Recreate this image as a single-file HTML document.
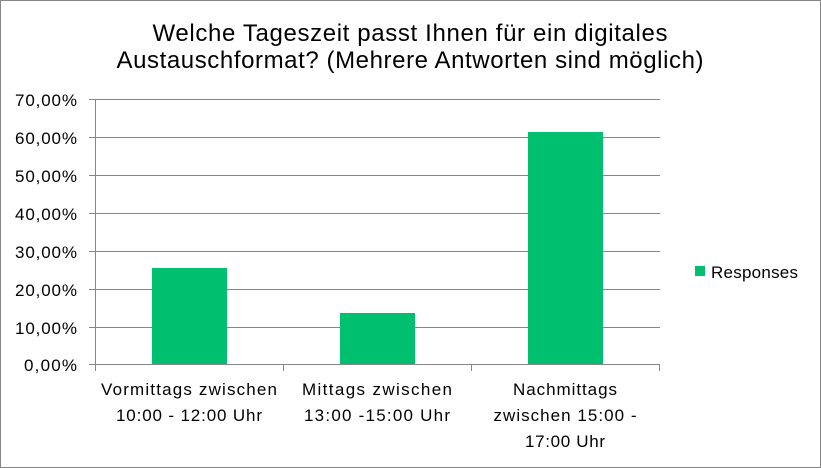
<!DOCTYPE html><html><head><meta charset="utf-8"><style>body{margin:0}svg{display:block}text{font-family:"Liberation Sans",sans-serif;fill:#000}</style></head><body>
<svg width="821" height="468" xmlns="http://www.w3.org/2000/svg">
<rect x="0.5" y="0.5" width="820" height="467" fill="#fff" stroke="#868686"/>
<g stroke="#868686" stroke-width="1">
<line x1="89" y1="99.5" x2="660" y2="99.5"/><line x1="89" y1="137.5" x2="660" y2="137.5"/>
<line x1="89" y1="175.5" x2="660" y2="175.5"/><line x1="89" y1="213.5" x2="660" y2="213.5"/>
<line x1="89" y1="251.5" x2="660" y2="251.5"/><line x1="89" y1="289.5" x2="660" y2="289.5"/>
<line x1="89" y1="327.5" x2="660" y2="327.5"/><line x1="89" y1="364.5" x2="660" y2="364.5"/>
<line x1="95.5" y1="99" x2="95.5" y2="371"/>
<line x1="283.5" y1="364" x2="283.5" y2="371"/><line x1="471.5" y1="364" x2="471.5" y2="371"/><line x1="659.5" y1="364" x2="659.5" y2="371"/>
</g>
<g fill="#00bf6f">
<rect x="152" y="268" width="75" height="96"/>
<rect x="340" y="313" width="75" height="51"/>
<rect x="528" y="132" width="75" height="232"/>
<rect x="695" y="266" width="10" height="10"/>
</g>
<g font-size="17" text-anchor="end">
<text x="77" y="106" textLength="62">70,00%</text><text x="77" y="144" textLength="62">60,00%</text><text x="77" y="182" textLength="62">50,00%</text>
<text x="77" y="220" textLength="62">40,00%</text><text x="77" y="258" textLength="62">30,00%</text><text x="77" y="296" textLength="62">20,00%</text>
<text x="77" y="334" textLength="62">10,00%</text><text x="77" y="371" textLength="53">0,00%</text>
</g>
<g font-size="17" text-anchor="middle">
<text x="189" y="395" textLength="176">Vormittags zwischen</text><text x="189" y="421" textLength="146">10:00 - 12:00 Uhr</text>
<text x="377" y="395" textLength="150">Mittags zwischen</text><text x="377" y="421" textLength="146">13:00 -15:00 Uhr</text>
<text x="565" y="395" textLength="104">Nachmittags</text><text x="565" y="421" textLength="143">zwischen 15:00 -</text><text x="565" y="447" textLength="80">17:00 Uhr</text>
</g>
<text x="711" y="278" font-size="17" textLength="87">Responses</text>
<g font-size="24" text-anchor="middle">
<text x="410" y="41" textLength="515">Welche Tageszeit passt Ihnen für ein digitales</text>
<text x="410" y="68" textLength="587">Austauschformat? (Mehrere Antworten sind möglich)</text>
</g>
</svg></body></html>
